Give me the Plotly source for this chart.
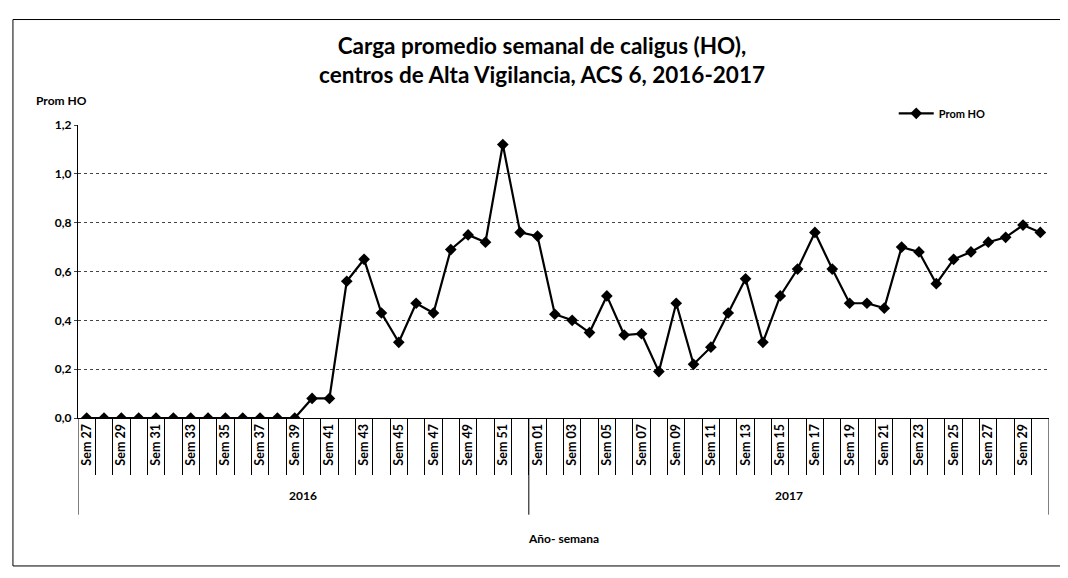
import plotly.graph_objects as go

years_2016 = [f"Sem {w:02d}" for w in range(27, 53)]
years_2017 = [f"Sem {w:02d}" for w in range(1, 31)]
weeks = years_2016 + years_2017
year_of = ["2016"] * len(years_2016) + ["2017"] * len(years_2017)

prom_ho = [
    0.00, 0.00, 0.00, 0.00, 0.00, 0.00, 0.00, 0.00, 0.00, 0.00, 0.00, 0.00, 0.00,
    0.08, 0.08, 0.56, 0.65, 0.43, 0.31, 0.47, 0.43, 0.69, 0.75, 0.72, 1.12, 0.76,
    0.745, 0.425, 0.40, 0.35, 0.50, 0.34, 0.345, 0.19, 0.47, 0.22, 0.29, 0.43,
    0.57, 0.31, 0.50, 0.61, 0.76, 0.61, 0.47, 0.47, 0.45, 0.70, 0.68, 0.55,
    0.65, 0.68, 0.72, 0.74, 0.79, 0.76,
]

y_ticks = [0.0, 0.2, 0.4, 0.6, 0.8, 1.0, 1.2]

FONT = "Lato"
idx = list(range(len(weeks)))

fig = go.Figure()
fig.add_trace(go.Scatter(
    x=idx, y=prom_ho, mode="lines+markers", name="Prom HO",
    line=dict(color="black", width=2.2),
    marker=dict(symbol="diamond", size=9, color="black"),
))

shown = [i for i in idx if i % 2 == 0]
fig.update_xaxes(
    range=[-0.5, len(weeks) - 0.5],
    tickvals=shown, ticktext=[weeks[i] for i in shown],
    tickangle=-90, ticks="", showgrid=False, zeroline=False,
    showline=True, linecolor="black", linewidth=1.2,
    tickfont=dict(family=FONT, size=12.5, color="black", weight="bold"),
    minor=dict(tickvals=[i + 0.5 for i in idx[:-1]], ticks="outside",
               ticklen=56, tickcolor="black", tickwidth=1),
)
fig.update_yaxes(
    range=[0, 1.2], tickvals=y_ticks, tickformat=".1f",
    showgrid=True, gridcolor="#444", griddash="dot", gridwidth=1,
    zeroline=False, showline=True, linecolor="black", linewidth=1.2,
    ticks="outside", ticklen=3, tickcolor="#444",
    tickfont=dict(family=FONT, size=12, color="black", weight="bold"),
)

# year group labels and separators
n16 = len(years_2016)
for yr, lo, hi in [("2016", 0, n16 - 1), ("2017", n16, len(weeks) - 1)]:
    fig.add_annotation(x=(lo + hi) / 2, y=-0.266, xref="x", yref="paper",
                       yanchor="middle", text=yr, showarrow=False,
                       font=dict(family=FONT, size=12, color="black", weight="bold"))
for b in [-0.5, n16 - 0.5, len(weeks) - 0.5]:
    fig.add_shape(type="line", xref="x", yref="paper", x0=b, x1=b, y0=0, y1=-0.33,
                  line=dict(color="black", width=1))

fig.add_annotation(x=0.5, y=-0.41, xref="paper", yref="paper", text="Año- semana",
                   yanchor="middle", showarrow=False,
                   font=dict(family=FONT, size=12, color="black", weight="bold"))
fig.add_annotation(x=-0.0165, y=1.082, xref="paper", yref="paper", text="Prom HO",
                   yanchor="middle", xanchor="center", showarrow=False,
                   font=dict(family=FONT, size=12, color="black", weight="bold"))

# outer border
fig.add_shape(type="rect", xref="paper", yref="paper", x0=-0.067, x1=1.022,
              y0=-0.505, y1=1.36, line=dict(color="black", width=1))

fig.update_layout(
    width=1068, height=578,
    margin=dict(l=70, r=27, t=117, b=168),
    paper_bgcolor="white", plot_bgcolor="white",
    separators=",.",
    title=dict(
        text="Carga promedio semanal de caligus (HO),<br>centros de Alta Vigilancia, ACS 6, 2016-2017",
        x=0.5, xanchor="center", y=0.92, yanchor="top",
        font=dict(family=FONT, size=22.5, color="black", weight="bold"),
    ),
    legend=dict(x=0.94, xanchor="right", y=1.04, yanchor="middle",
                bgcolor="rgba(0,0,0,0)", itemwidth=35,
                font=dict(family=FONT, size=11, color="black", weight="bold")),
    showlegend=True,
)

fig.write_html("out.html")
